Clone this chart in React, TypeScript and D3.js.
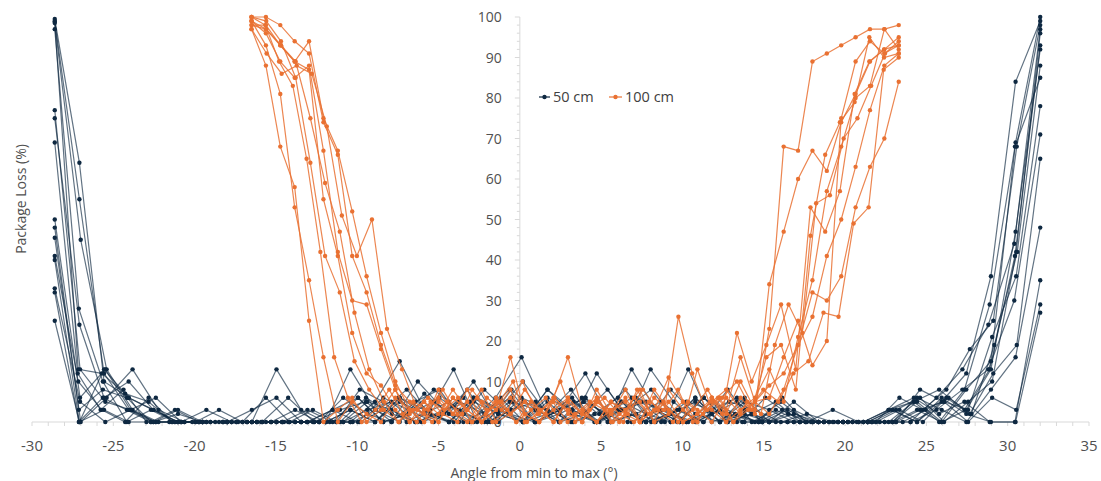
import React from "react";
import { scaleLinear, line, range } from "d3";

// x axis + y axis ranges
const X_TICKS = [-30, -25, -20, -15, -10, -5, 0, 5, 10, 15, 20, 25, 30, 35];
const Y_TICKS = [0, 10, 20, 30, 40, 50, 60, 70, 80, 90, 100];

// sweep limits of each distance (deg)
const SWEEP_50 = [-28.6, 32.0];
const SWEEP_100 = [-16.5, 23.3];

// package loss (%) per sweep, 50 cm
const s50_1 = [99.5, 64, 10, 6, 3, 0, 0, 0, 0, 13, 3, 0, 0, 5, 15, 3, 0, 6, 2, 0, 8, 3, 0, 5, 2, 0, 6, 0, 3, 0, 5, 0, 0, 0, 0, 3, 0, 8, 15, 69, 100];
const s50_2 = [99, 55, 12, 3, 0, 2, 0, 0, 3, 6, 0, 0, 13, 3, 0, 7, 2, 10, 0, 5, 3, 0, 12, 3, 0, 2, 5, 0, 6, 0, 2, 0, 0, 0, 3, 0, 5, 12, 36, 84, 99];
const s50_3 = [98.8, 13, 12, 7, 5, 0, 0, 3, 0, 6, 0, 3, 0, 8, 5, 0, 3, 13, 0, 6, 0, 2, 8, 0, 3, 5, 0, 13, 0, 2, 0, 6, 0, 0, 0, 0, 6, 3, 8, 18, 25, 68, 98];
const s50_4 = [98.5, 45, 13, 3, 0, 0, 0, 0, 0, 6, 0, 3, 5, 0, 10, 3, 0, 6, 16, 2, 5, 0, 3, 8, 0, 6, 2, 0, 5, 0, 3, 0, 0, 0, 6, 13, 24, 44, 97];
const s50_5 = [97, 28, 10, 0, 3, 0, 0, 0, 0, 0, 3, 0, 6, 2, 0, 5, 8, 0, 3, 6, 0, 2, 5, 0, 13, 3, 0, 6, 0, 2, 5, 0, 0, 0, 0, 3, 6, 0, 5, 10, 42, 96];
const s50_6 = [77, 13, 5, 3, 0, 0, 3, 0, 0, 0, 0, 3, 0, 6, 3, 0, 5, 2, 8, 0, 3, 6, 0, 2, 5, 0, 3, 6, 0, 3, 0, 0, 0, 0, 5, 8, 3, 13, 41, 93];
const s50_7 = [75, 24, 6, 10, 3, 0, 0, 0, 0, 0, 0, 0, 3, 0, 6, 2, 5, 0, 3, 10, 2, 6, 0, 3, 0, 8, 2, 0, 5, 3, 0, 0, 0, 0, 0, 5, 0, 3, 13, 47, 92];
const s50_8 = [69, 12, 3, 8, 0, 0, 0, 0, 0, 0, 0, 0, 0, 0, 3, 6, 0, 2, 8, 0, 5, 3, 0, 6, 2, 0, 13, 5, 0, 3, 0, 6, 2, 0, 0, 0, 0, 0, 3, 6, 2, 19, 42, 88];
const s50_9 = [50, 6, 13, 3, 0, 0, 0, 0, 0, 0, 0, 3, 6, 0, 2, 8, 3, 0, 5, 0, 3, 12, 0, 6, 3, 0, 2, 5, 0, 0, 0, 0, 0, 3, 5, 0, 8, 29, 68, 85];
const s50_10 = [48, 3, 8, 6, 0, 3, 0, 0, 0, 0, 0, 0, 0, 3, 5, 0, 2, 6, 0, 8, 3, 0, 5, 2, 6, 0, 3, 0, 8, 0, 3, 0, 0, 0, 0, 0, 8, 5, 3, 21, 36, 78];
const s50_11 = [45.5, 0, 6, 13, 3, 0, 0, 0, 0, 0, 0, 0, 6, 2, 0, 3, 5, 0, 6, 3, 0, 2, 8, 0, 3, 0, 5, 3, 0, 2, 0, 0, 0, 0, 3, 8, 13, 30, 71];
const s50_12 = [41, 10, 3, 0, 6, 0, 0, 0, 0, 0, 0, 0, 0, 0, 3, 8, 2, 0, 6, 3, 0, 5, 0, 2, 6, 0, 3, 0, 5, 2, 0, 3, 0, 0, 0, 0, 3, 0, 6, 2, 12, 19, 65];
const s50_13 = [40, 0, 13, 6, 3, 0, 0, 0, 0, 0, 0, 0, 3, 0, 5, 2, 0, 6, 3, 0, 8, 2, 0, 3, 5, 0, 6, 0, 2, 0, 3, 0, 0, 0, 0, 6, 3, 0, 8, 16, 48];
const s50_14 = [33, 5, 0, 3, 6, 0, 0, 0, 0, 0, 3, 0, 6, 0, 2, 5, 0, 8, 2, 0, 3, 6, 0, 2, 0, 5, 3, 0, 0, 0, 0, 0, 0, 3, 6, 2, 5, 0, 0, 35];
const s50_15 = [32, 0, 6, 3, 0, 0, 0, 0, 0, 0, 0, 0, 0, 5, 3, 0, 6, 2, 0, 3, 5, 0, 2, 8, 0, 3, 0, 6, 0, 2, 0, 0, 0, 0, 0, 0, 3, 5, 0, 6, 3, 29];
const s50_16 = [25, 0, 3, 0, 0, 3, 0, 0, 0, 0, 0, 0, 0, 0, 6, 3, 0, 5, 2, 0, 6, 3, 0, 5, 0, 2, 0, 3, 0, 0, 0, 0, 0, 0, 3, 0, 6, 2, 0, 0, 27];

// package loss (%) per sweep, 100 cm
const s100_1 = [97, 88, 68, 58, 25, 0, 3, 6, 0, 3, 8, 2, 5, 0, 6, 3, 0, 5, 2, 8, 3, 0, 5, 2, 6, 0, 3, 5, 0, 8, 3, 0, 6, 2, 10, 3, 23, 68, 67, 89, 91, 93, 95, 97, 97, 98];
const s100_2 = [99, 93, 81, 53, 35, 16, 0, 5, 2, 0, 6, 3, 0, 8, 2, 5, 0, 3, 16, 2, 0, 6, 3, 0, 5, 2, 8, 0, 3, 5, 0, 13, 3, 0, 6, 2, 34, 47, 60, 67, 62, 74, 81, 89, 92, 95];
const s100_3 = [100, 98, 89, 83, 65, 42, 16, 6, 0, 3, 8, 2, 0, 5, 3, 6, 0, 2, 5, 10, 0, 3, 6, 2, 0, 5, 3, 0, 8, 2, 3, 26, 12, 3, 6, 0, 5, 2, 19, 29, 22, 54, 56, 70, 75, 83, 91, 94];
const s100_4 = [99, 97, 93, 89, 75, 59, 47, 27, 13, 5, 0, 3, 6, 2, 0, 8, 3, 5, 0, 3, 6, 0, 2, 5, 3, 0, 6, 2, 5, 0, 3, 8, 2, 22, 10, 19, 29, 13, 53, 47, 57, 81, 89, 92, 93];
const s100_5 = [98, 98, 93, 89, 94, 75, 67, 52, 36, 22, 10, 3, 0, 5, 2, 8, 0, 3, 6, 2, 0, 5, 3, 0, 8, 2, 6, 0, 3, 11, 5, 0, 6, 3, 16, 5, 2, 8, 19, 32, 30, 36, 53, 63, 70, 84];
const s100_6 = [100, 100, 98, 94, 91, 74, 66, 41, 32, 19, 9, 5, 2, 0, 6, 3, 8, 0, 2, 5, 3, 0, 6, 2, 0, 3, 5, 0, 8, 3, 0, 2, 6, 0, 3, 5, 9, 12, 19, 26, 41, 50, 63, 77, 88, 91];
const s100_7 = [97, 91, 86, 88, 86, 73, 51, 41, 50, 23, 13, 3, 0, 5, 2, 6, 0, 3, 10, 2, 5, 0, 3, 6, 0, 2, 8, 3, 0, 5, 2, 6, 0, 3, 8, 5, 12, 15, 27, 26, 49, 53, 87, 90];
const s100_8 = [99, 96, 89, 85, 88, 67, 42, 30, 29, 18, 8, 0, 3, 6, 2, 0, 5, 3, 8, 0, 2, 6, 16, 3, 0, 5, 2, 0, 6, 3, 0, 2, 5, 8, 3, 6, 13, 5, 21, 35, 57, 68, 80, 83, 97, 92];
const s100_9 = [98, 97, 93, 89, 87, 55, 41, 22, 12, 9, 3, 0, 5, 2, 8, 3, 0, 6, 2, 5, 0, 3, 6, 2, 0, 5, 3, 8, 0, 2, 5, 3, 0, 6, 2, 5, 6, 16, 25, 14, 20, 75, 89, 94, 91, 93];
const s100_10 = [100, 99, 94, 85, 64, 41, 32, 15, 8, 3, 0, 5, 3, 8, 2, 0, 6, 3, 0, 5, 2, 10, 0, 3, 6, 2, 0, 5, 3, 8, 0, 3, 6, 10, 3, 16, 19, 8, 46, 66, 74, 79, 95, 90, 91];

const SERIES_50 = [s50_1, s50_2, s50_3, s50_4, s50_5, s50_6, s50_7, s50_8, s50_9, s50_10, s50_11, s50_12, s50_13, s50_14, s50_15, s50_16];
const SERIES_100 = [s100_1, s100_2, s100_3, s100_4, s100_5, s100_6, s100_7, s100_8, s100_9, s100_10];

const NAVY = "#0e2841";
const ORANGE = "#e97132";
const FONT = "'Open Sans', 'Liberation Sans', sans-serif";

const W = 1101;
const H = 481;

// sample angles evenly spread over the sweep
const withAngles = (vals: number[], sweep: number[]) => {
  const step = (sweep[1] - sweep[0]) / (vals.length - 1);
  return vals.map((v, i) => [sweep[0] + i * step, v] as [number, number]);
};

export default function App() {
  const x = scaleLinear().domain([-30, 35]).range([32, 1089]);
  const y = scaleLinear().domain([0, 100]).range([422, 17]);
  const path = line<[number, number]>()
    .x((d) => x(d[0]))
    .y((d) => y(d[1]));

  const drawSeries = (vals: number[], sweep: number[], color: string, op: number, key: string) => {
    const pts = withAngles(vals, sweep);
    return (
      <g key={key}>
        <path d={path(pts) || ""} fill="none" stroke={color} strokeWidth={1.2} strokeOpacity={op} />
        {pts.map((p, i) => (
          <circle key={i} cx={x(p[0])} cy={y(p[1])} r={2.2} fill={color} />
        ))}
      </g>
    );
  };

  return (
    <svg width={W} height={H} style={{ position: "absolute", left: 0, top: 0, background: "#fff" }}>
      {/* x axis */}
      <line x1={x(-30)} x2={x(35)} y1={y(0)} y2={y(0)} stroke="#d9d9d9" strokeWidth={1} />
      {range(-30, 36).map((t) => (
        <line key={t} x1={x(t)} x2={x(t)} y1={y(0)} y2={y(0) + 4} stroke="#d9d9d9" />
      ))}
      {X_TICKS.map((t) => (
        <text key={t} x={x(t)} y={451} textAnchor="middle" fontFamily={FONT} fontSize={15} fill="#505050">
          {t}
        </text>
      ))}
      {/* y axis */}
      <line x1={x(0)} x2={x(0)} y1={y(0)} y2={y(100)} stroke="#d9d9d9" strokeWidth={1} />
      {range(0, 101, 2).map((t) => (
        <line key={t} x1={x(0) - (t % 10 === 0 ? 5 : 3)} x2={x(0)} y1={y(t)} y2={y(t)} stroke="#d9d9d9" />
      ))}
      {Y_TICKS.map((t) => (
        <text key={t} x={x(0) - 18} y={y(t) + 5} textAnchor="end" fontFamily={FONT} fontSize={14} fill="#505050">
          {t}
        </text>
      ))}

      {SERIES_50.map((s, i) => drawSeries(s, SWEEP_50, NAVY, 0.65, "a" + i))}
      {SERIES_100.map((s, i) => drawSeries(s, SWEEP_100, ORANGE, 0.85, "b" + i))}

      {/* legend */}
      <g fontFamily={FONT} fontSize={14.5} fill="#404040">
        <line x1={539} x2={550} y1={97} y2={97} stroke={NAVY} strokeWidth={1.2} />
        <circle cx={544.5} cy={97} r={2.2} fill={NAVY} />
        <text x={553} y={102}>50 cm</text>
        <line x1={609} x2={622} y1={97} y2={97} stroke={ORANGE} strokeWidth={1.2} />
        <circle cx={615.5} cy={97} r={2.2} fill={ORANGE} />
        <text x={625} y={102}>100 cm</text>
      </g>

      {/* axis titles */}
      <text x={534} y={478} textAnchor="middle" fontFamily={FONT} fontSize={14} fill="#505050">
        Angle from min to max (°)
      </text>
      <text transform="translate(26,199) rotate(-90)" textAnchor="middle" fontFamily={FONT} fontSize={14} fill="#505050">
        Package Loss (%)
      </text>
    </svg>
  );
}
